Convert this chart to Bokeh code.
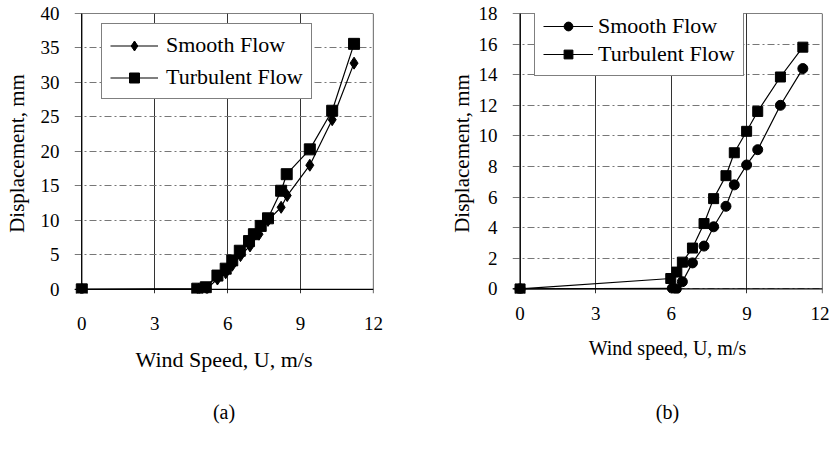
from bokeh.plotting import figure
from bokeh.layouts import row
from bokeh.models import Legend, LegendItem, FixedTicker, LinearAxis, Range1d, Span
from bokeh.embed import file_html
from bokeh.resources import INLINE

# ---- data, panel (a) ----
a_smooth_x = [0, 4.8, 5.15, 5.58, 5.92, 6.19, 6.53, 6.92, 7.29, 7.66, 8.2, 8.45, 9.38, 10.3, 11.2]
a_smooth_y = [0, 0, 0.1, 1.5, 2.4, 3.5, 4.9, 6.3, 8.0, 10.0, 11.9, 13.6, 18.0, 24.6, 32.8]
a_turb_x = [0, 4.75, 5.1, 5.58, 5.92, 6.19, 6.5, 6.88, 7.08, 7.36, 7.66, 8.2, 8.43, 9.38, 10.3, 11.2]
a_turb_y = [0, 0.1, 0.3, 2.0, 3.0, 4.2, 5.6, 7.0, 8.0, 9.2, 10.3, 14.3, 16.7, 20.3, 25.9, 35.6]
a_xticks = [0, 3, 6, 9, 12]
a_yticks = [0, 5, 10, 15, 20, 25, 30, 35, 40]

# ---- data, panel (b) ----
b_smooth_x = [0, 6.04, 6.2, 6.44, 6.84, 7.3, 7.68, 8.17, 8.5, 8.99, 9.43, 10.33, 11.22]
b_smooth_y = [0, 0.04, 0, 0.47, 1.7, 2.8, 4.06, 5.4, 6.8, 8.1, 9.1, 12.0, 14.4]
b_turb_x = [0, 5.98, 6.22, 6.44, 6.84, 7.3, 7.68, 8.17, 8.5, 8.99, 9.43, 10.33, 11.22]
b_turb_y = [0, 0.68, 1.1, 1.75, 2.67, 4.27, 5.9, 7.4, 8.9, 10.3, 11.6, 13.85, 15.8]
b_xticks = [0, 3, 6, 9, 12]
b_yticks = [0, 2, 4, 6, 8, 10, 12, 14, 16, 18]

FONT = "Liberation Serif"


def panel(width, height, ml, mr, mt, mb, xmax, ymax, ypad, xticks, yticks, xlabel, caption,
          sx, sy, tx, ty, smooth_marker, smooth_size, sq_size, leg_loc, leg_cfg, xlab_size,
          tick_standoff, ytick_standoff, xlab_standoff, ylab_standoff, cap_standoff):
    xpad = 0.3
    p = figure(width=width, height=height, output_backend="svg", toolbar_location=None,
               x_range=Range1d(-xpad, xmax), y_range=Range1d(-ypad, ymax),
               min_border_left=ml, min_border_right=mr, min_border_top=mt,
               min_border_bottom=mb)
    p.outline_line_color = None
    p.background_fill_color = "white"
    p.border_fill_color = "white"

    # plot box drawn at the axis limits (0 .. max)
    for loc, dim in ((0, "height"), (xmax, "height"), (0, "width"), (ymax, "width")):
        p.add_layout(Span(location=loc, dimension=dim, line_color="black", line_width=1.2))

    p.xaxis.ticker = FixedTicker(ticks=xticks, minor_ticks=[])
    p.yaxis.ticker = FixedTicker(ticks=yticks, minor_ticks=[])
    for ax in (p.xaxis[0], p.yaxis[0]):
        ax.axis_line_color = None
        ax.major_tick_line_color = None
        ax.minor_tick_line_color = None
        ax.major_label_text_font = FONT
        ax.major_label_text_font_size = "19px"
        ax.major_label_text_color = "black"
        ax.axis_label_text_font = FONT
        ax.axis_label_text_font_style = "normal"
        ax.axis_label_text_color = "black"
    p.xaxis.major_label_standoff = tick_standoff
    p.yaxis.major_label_standoff = ytick_standoff
    p.xaxis.axis_label = xlabel
    p.xaxis.axis_label_text_font_size = xlab_size
    p.xaxis.axis_label_standoff = xlab_standoff
    p.yaxis.axis_label = "Displacement, mm"
    p.yaxis.axis_label_text_font_size = "21px"
    p.yaxis.axis_label_standoff = ylab_standoff

    p.xgrid.grid_line_color = "#333333"
    p.xgrid.grid_line_width = 1
    p.ygrid.grid_line_color = "#777777"
    p.ygrid.grid_line_dash = "7 3 2 3"
    p.ygrid.grid_line_width = 1

    cap = LinearAxis(ticker=FixedTicker(ticks=[]), axis_line_color=None,
                     major_tick_line_color=None, minor_tick_line_color=None,
                     axis_label=caption, axis_label_text_font=FONT,
                     axis_label_text_font_size="20px", axis_label_text_font_style="normal",
                     axis_label_text_color="black", axis_label_standoff=cap_standoff)
    p.add_layout(cap, "below")

    l1 = p.line(sx, sy, line_color="black", line_width=1.2)
    m1 = p.scatter(sx, sy, marker=smooth_marker, size=smooth_size,
                   fill_color="black", line_color="black")
    l2 = p.line(tx, ty, line_color="black", line_width=1.2)
    m2 = p.scatter(tx, ty, marker="square", size=sq_size, fill_color="black", line_color="black")

    legend = Legend(items=[LegendItem(label="Smooth Flow", renderers=[l1, m1]),
                           LegendItem(label="Turbulent Flow", renderers=[l2, m2])],
                    location=leg_loc, border_line_color="black", border_line_width=1,
                    background_fill_color="white", background_fill_alpha=1.0,
                    label_text_font=FONT, label_text_font_size="22px",
                    label_text_color="black", **leg_cfg)
    p.add_layout(legend)
    return p


pa = panel(440, 451, 74, 67, 12, 158, 12, 40, 0.6, a_xticks, a_yticks,
           "Wind Speed, U, m/s", "(a)",
           a_smooth_x, a_smooth_y, a_turb_x, a_turb_y, "diamond", 12, 11, (27, 194),
           dict(padding=8, spacing=6, glyph_width=48, glyph_height=25, label_height=25,
                label_standoff=8),
           "22px", 17, 9, 14, 9, 26)
pb = panel(389, 451, 72, 7, 13, 153, 12, 18, 0.3, b_xticks, b_yticks,
           "Wind speed, U, m/s", "(b)",
           b_smooth_x, b_smooth_y, b_turb_x, b_turb_y, "circle", 10, 10, (22, 217),
           dict(padding=8, spacing=2, glyph_width=50, glyph_height=22, label_height=22,
                label_standoff=5),
           "20px", 7, 9, 14, 2, 39)

layout = row(pa, pb)
open("out.html", "w").write(file_html(layout, INLINE))
